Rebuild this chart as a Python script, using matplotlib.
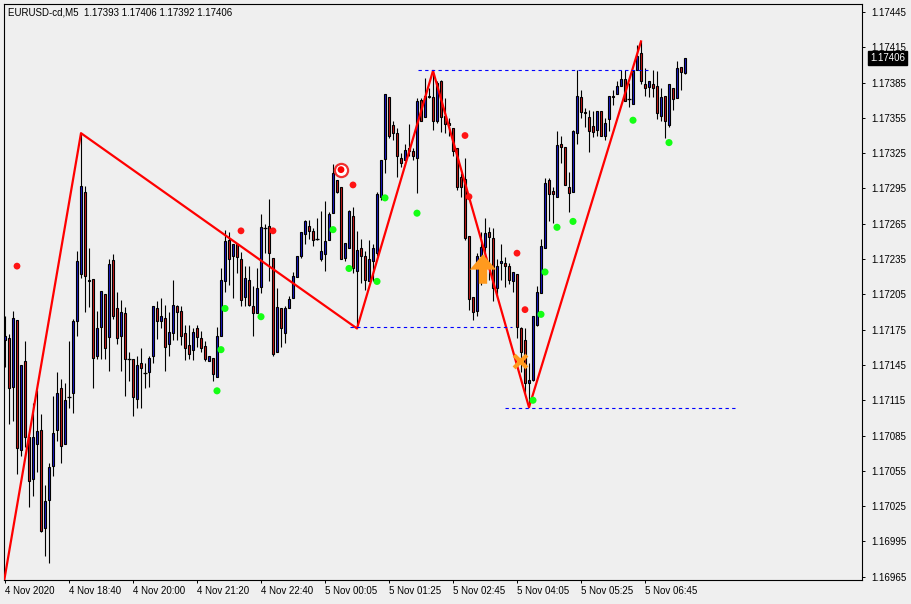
import matplotlib.pyplot as plt
from matplotlib.transforms import blended_transform_factory

# OHLC for the 171 M5 bars (EURUSD-cd)
opens = [1.17166, 1.17168, 1.17126, 1.17183, 1.17073, 1.17148, 1.17084, 1.17048, 1.17078, 1.17090,
         1.17006, 1.17030, 1.17059, 1.17090, 1.17125, 1.17078, 1.17118, 1.17121, 1.17182, 1.17222,
         1.17292, 1.17216, 1.17218, 1.17153, 1.17177, 1.17205, 1.17169, 1.17234, 1.17193, 1.17170,
         1.17189, 1.17150, 1.17150, 1.17116, 1.17147, 1.17138, 1.17139, 1.17153, 1.17193, 1.17182,
         1.17185, 1.17163, 1.17172, 1.17195, 1.17191, 1.17172, 1.17162, 1.17158, 1.17176, 1.17168,
         1.17161, 1.17148, 1.17151, 1.17135, 1.17170, 1.17216, 1.17251, 1.17238, 1.17248, 1.17235,
         1.17203, 1.17217, 1.17195, 1.17189, 1.17211, 1.17261, 1.17263, 1.17236, 1.17156, 1.17193,
         1.17172, 1.17193, 1.17202, 1.17220, 1.17238, 1.17256, 1.17263, 1.17259, 1.17252, 1.17235,
         1.17239, 1.17251, 1.17274, 1.17302, 1.17296, 1.17236, 1.17244, 1.17272, 1.17225, 1.17244,
         1.17238, 1.17216, 1.17233, 1.17240, 1.17288, 1.17320, 1.17373, 1.17349, 1.17342, 1.17321,
         1.17319, 1.17327, 1.17327, 1.17321, 1.17370, 1.17356, 1.17374, 1.17373, 1.17352, 1.17386,
         1.17357, 1.17351, 1.17346, 1.17329, 1.17305, 1.17303, 1.17255, 1.17203, 1.17191, 1.17238,
         1.17245, 1.17258, 1.17253, 1.17210, 1.17232, 1.17232, 1.17229, 1.17216, 1.17222, 1.17176,
         1.17166, 1.17130, 1.17132, 1.17179, 1.17206, 1.17244, 1.17302, 1.17293, 1.17288, 1.17333,
         1.17330, 1.17296, 1.17292, 1.17342, 1.17373, 1.17360, 1.17356, 1.17348, 1.17345, 1.17361,
         1.17340, 1.17354, 1.17374, 1.17375, 1.17382, 1.17388, 1.17371, 1.17367, 1.17396, 1.17410,
         1.17384, 1.17381, 1.17384, 1.17382, 1.17357, 1.17374, 1.17349, 1.17380, 1.17372, 1.17398,
         1.17393]
highs = [1.17187, 1.17171, 1.17191, 1.17183, 1.17145, 1.17165, 1.17084, 1.17113, 1.17124, 1.17103,
         1.17043, 1.17062, 1.17119, 1.17139, 1.17133, 1.17130, 1.17165, 1.17184, 1.17242, 1.17342,
         1.17297, 1.17244, 1.17218, 1.17191, 1.17208, 1.17205, 1.17235, 1.17239, 1.17207, 1.17200,
         1.17194, 1.17156, 1.17150, 1.17153, 1.17159, 1.17147, 1.17153, 1.17195, 1.17199, 1.17202,
         1.17196, 1.17190, 1.17217, 1.17196, 1.17195, 1.17179, 1.17179, 1.17176, 1.17179, 1.17174,
         1.17165, 1.17153, 1.17151, 1.17177, 1.17227, 1.17260, 1.17258, 1.17248, 1.17248, 1.17241,
         1.17229, 1.17229, 1.17212, 1.17227, 1.17273, 1.17265, 1.17286, 1.17236, 1.17210, 1.17193,
         1.17195, 1.17204, 1.17224, 1.17238, 1.17258, 1.17268, 1.17268, 1.17261, 1.17270, 1.17276,
         1.17284, 1.17275, 1.17316, 1.17302, 1.17296, 1.17249, 1.17277, 1.17279, 1.17259, 1.17252,
         1.17242, 1.17251, 1.17248, 1.17292, 1.17319, 1.17375, 1.17373, 1.17352, 1.17346, 1.17325,
         1.17333, 1.17350, 1.17329, 1.17372, 1.17372, 1.17389, 1.17380, 1.17395, 1.17386, 1.17387,
         1.17372, 1.17355, 1.17346, 1.17329, 1.17308, 1.17321, 1.17255, 1.17203, 1.17240, 1.17258,
         1.17270, 1.17262, 1.17261, 1.17235, 1.17248, 1.17237, 1.17232, 1.17224, 1.17222, 1.17177,
         1.17176, 1.17147, 1.17187, 1.17212, 1.17252, 1.17304, 1.17304, 1.17296, 1.17344, 1.17340,
         1.17330, 1.17309, 1.17345, 1.17396, 1.17379, 1.17363, 1.17362, 1.17361, 1.17361, 1.17361,
         1.17355, 1.17374, 1.17379, 1.17386, 1.17396, 1.17396, 1.17385, 1.17395, 1.17417, 1.17420,
         1.17397, 1.17386, 1.17396, 1.17395, 1.17380, 1.17374, 1.17384, 1.17380, 1.17403, 1.17398,
         1.17406]
lows = [1.17143, 1.17095, 1.17097, 1.17052, 1.17068, 1.17075, 1.17024, 1.17034, 1.17054, 1.17003,
        1.16983, 1.16977, 1.17051, 1.17080, 1.17062, 1.17078, 1.17108, 1.17104, 1.17170, 1.17219,
        1.17190, 1.17194, 1.17125, 1.17150, 1.17150, 1.17150, 1.17140, 1.17184, 1.17163, 1.17140,
        1.17119, 1.17131, 1.17102, 1.17108, 1.17108, 1.17125, 1.17126, 1.17147, 1.17167, 1.17176,
        1.17140, 1.17153, 1.17166, 1.17166, 1.17162, 1.17149, 1.17150, 1.17149, 1.17160, 1.17156,
        1.17148, 1.17148, 1.17131, 1.17135, 1.17170, 1.17207, 1.17213, 1.17202, 1.17223, 1.17195,
        1.17195, 1.17195, 1.17170, 1.17189, 1.17206, 1.17240, 1.17216, 1.17153, 1.17156, 1.17160,
        1.17164, 1.17193, 1.17202, 1.17220, 1.17236, 1.17248, 1.17252, 1.17246, 1.17251, 1.17233,
        1.17225, 1.17251, 1.17274, 1.17291, 1.17235, 1.17233, 1.17244, 1.17223, 1.17176, 1.17215,
        1.17209, 1.17216, 1.17216, 1.17238, 1.17285, 1.17308, 1.17338, 1.17336, 1.17305, 1.17313,
        1.17319, 1.17323, 1.17319, 1.17291, 1.17352, 1.17356, 1.17372, 1.17345, 1.17351, 1.17343,
        1.17342, 1.17340, 1.17323, 1.17294, 1.17288, 1.17251, 1.17192, 1.17183, 1.17187, 1.17213,
        1.17217, 1.17217, 1.17199, 1.17203, 1.17217, 1.17211, 1.17214, 1.17207, 1.17168, 1.17139,
        1.17121, 1.17109, 1.17131, 1.17178, 1.17206, 1.17244, 1.17267, 1.17266, 1.17288, 1.17317,
        1.17298, 1.17275, 1.17292, 1.17333, 1.17355, 1.17347, 1.17326, 1.17339, 1.17340, 1.17340,
        1.17336, 1.17344, 1.17366, 1.17375, 1.17382, 1.17369, 1.17364, 1.17367, 1.17396, 1.17384,
        1.17374, 1.17373, 1.17373, 1.17354, 1.17352, 1.17338, 1.17347, 1.17362, 1.17372, 1.17379,
        1.17392]
closes = [1.17170, 1.17125, 1.17185, 1.17074, 1.17145, 1.17084, 1.17046, 1.17084, 1.17089, 1.17004,
          1.17029, 1.17058, 1.17087, 1.17121, 1.17076, 1.17115, 1.17118, 1.17182, 1.17233, 1.17297,
          1.17221, 1.17217, 1.17151, 1.17176, 1.17208, 1.17159, 1.17231, 1.17187, 1.17168, 1.17190,
          1.17150, 1.17150, 1.17118, 1.17145, 1.17142, 1.17138, 1.17151, 1.17195, 1.17182, 1.17187,
          1.17160, 1.17173, 1.17196, 1.17190, 1.17170, 1.17159, 1.17154, 1.17173, 1.17169, 1.17159,
          1.17150, 1.17153, 1.17137, 1.17170, 1.17217, 1.17250, 1.17235, 1.17248, 1.17237, 1.17200,
          1.17219, 1.17196, 1.17189, 1.17210, 1.17262, 1.17261, 1.17240, 1.17154, 1.17194, 1.17176,
          1.17193, 1.17201, 1.17221, 1.17238, 1.17258, 1.17267, 1.17259, 1.17251, 1.17252, 1.17242,
          1.17250, 1.17273, 1.17308, 1.17292, 1.17235, 1.17249, 1.17276, 1.17227, 1.17243, 1.17238,
          1.17217, 1.17235, 1.17244, 1.17290, 1.17319, 1.17375, 1.17340, 1.17342, 1.17323, 1.17317,
          1.17328, 1.17329, 1.17323, 1.17369, 1.17352, 1.17374, 1.17373, 1.17352, 1.17385, 1.17356,
          1.17350, 1.17349, 1.17327, 1.17296, 1.17296, 1.17253, 1.17201, 1.17190, 1.17238, 1.17245,
          1.17257, 1.17254, 1.17210, 1.17229, 1.17233, 1.17229, 1.17217, 1.17224, 1.17177, 1.17156,
          1.17130, 1.17132, 1.17187, 1.17207, 1.17246, 1.17300, 1.17290, 1.17290, 1.17332, 1.17330,
          1.17298, 1.17291, 1.17344, 1.17374, 1.17360, 1.17359, 1.17344, 1.17343, 1.17361, 1.17340,
          1.17351, 1.17374, 1.17373, 1.17382, 1.17388, 1.17369, 1.17371, 1.17395, 1.17408, 1.17386,
          1.17380, 1.17386, 1.17380, 1.17359, 1.17373, 1.17352, 1.17384, 1.17371, 1.17397, 1.17394,
          1.17406]

# ZigZag swing points (bar index, price)
zz_bars = [-1, 19, 88, 107, 131, 159]
zz_prices = [1.16946, 1.17342, 1.17176, 1.17395, 1.17109, 1.17420]

# dashed blue levels: price, first bar, last bar
level_prices = [1.17177, 1.17396, 1.17108]
level_start = [86.25, 103.25, 125]
level_end = [126.75, 160.75, 183]

# signal dots
red_bars = [3, 59, 67, 87, 115, 116, 128, 130]
red_prices = [1.17229, 1.17259, 1.17259, 1.17298, 1.17340, 1.17288, 1.17240, 1.17192]
green_bars = [53, 54, 55, 64, 82, 86, 93, 95, 103, 132, 134, 135, 138, 142, 157, 166]
green_prices = [1.17123, 1.17158, 1.17193, 1.17186, 1.17260, 1.17227, 1.17216, 1.17287,
                1.17274, 1.17115, 1.17188, 1.17224, 1.17262, 1.17267, 1.17353, 1.17334]

# other objects
target_bar, target_price = 84, 1.17311
arrow_bar, arrow_low, arrow_high = 119.5, 1.17214, 1.17239
cross_bar, cross_price = 128.75, 1.17148

price_ticks = [1.16965 + 0.0003 * k for k in range(17)]
time_bars = [0, 16, 32, 48, 64, 80, 96, 112, 128, 144, 160]
time_labels = ['4 Nov 2020', '4 Nov 18:40', '4 Nov 20:00', '4 Nov 21:20', '4 Nov 22:40',
               '5 Nov 00:05', '5 Nov 01:25', '5 Nov 02:45', '5 Nov 04:05', '5 Nov 05:25',
               '5 Nov 06:45']

BG = '#EFEFEF'
plt.rcParams['font.family'] = ['Liberation Sans', 'DejaVu Sans']

fig = plt.figure(figsize=(9.12, 6.04), dpi=100, facecolor=BG)
ax = fig.add_axes([4 / 912, 24 / 604, 858 / 912, 576 / 604])
ax.set_facecolor(BG)

idx = list(range(len(opens)))

# wicks
ax.vlines(idx, lows, highs, color='black', linewidth=0.8, zorder=2)

# bodies (blue = up bar, red = down bar, black outline)
body_bottom = [min(o, c) for o, c in zip(opens, closes)]
body_height = [abs(c - o) for o, c in zip(opens, closes)]
body_color = ['#1a1ac8' if c > o else '#c81a1a' for o, c in zip(opens, closes)]
ax.bar(idx, body_height, bottom=body_bottom, width=0.7, color=body_color,
       edgecolor='black', linewidth=0.8, zorder=3)
doji = [i for i in idx if opens[i] == closes[i]]
ax.hlines([opens[i] for i in doji], [i - 0.4 for i in doji], [i + 0.4 for i in doji],
          color='black', linewidth=0.9, zorder=3)

# zigzag
ax.plot(zz_bars, zz_prices, color='#FF0000', linewidth=1.6, zorder=4)

# dashed levels
ax.hlines(level_prices, level_start, level_end, color='#0000FF', linewidth=0.8,
          linestyles=(0, (3, 3)), zorder=4)

# dots
ax.scatter(red_bars, red_prices, s=24, color='#FF1414', edgecolors='none', zorder=5)
ax.scatter(green_bars, green_prices, s=26, color='#14FF14', edgecolors='none', zorder=5)

# target marker
ax.scatter([target_bar], [target_price], s=90, facecolor='white', edgecolors='#F03030',
           linewidths=1.6, zorder=6)
ax.scatter([target_bar], [target_price], s=24, color='#FF0000', edgecolors='none', zorder=7)

# orange arrow and cross
ax.annotate('', xy=(arrow_bar, arrow_high), xytext=(arrow_bar, arrow_low),
            arrowprops=dict(arrowstyle='simple,head_width=1.9,head_length=1.1,tail_width=0.6',
                            fc='#FF9A1E', ec='none', shrinkA=0, shrinkB=0), zorder=6)
ax.scatter([cross_bar], [cross_price], marker='x', s=85, color='#FF9A1E', linewidths=3, zorder=6)

ax.set_xlim(-0.25, 214.25)
ax.set_ylim(1.169622, 1.174518)

# axes decoration
for sp in ax.spines.values():
    sp.set_color('black')
    sp.set_linewidth(0.8)

ax.yaxis.tick_right()
ax.set_yticks(price_ticks)
ax.set_yticklabels([f'{p:.5f}' for p in price_ticks])
ax.tick_params(axis='y', direction='out', length=2.5, width=0.7, pad=4, labelsize=7)

ax.set_xticks(time_bars)
ax.set_xticklabels(time_labels)
ax.tick_params(axis='x', direction='out', length=2.5, width=0.7, pad=2, labelsize=7)
for lab in ax.get_xticklabels():
    lab.set_horizontalalignment('left')

# header and last price box
ax.text(0.005, 0.986, 'EURUSD-cd,M5  1.17393 1.17406 1.17392 1.17406', transform=ax.transAxes,
        fontsize=7, ha='left', va='center')
trans = blended_transform_factory(ax.transAxes, ax.transData)
ax.text(1.0095, closes[-1], f'{closes[-1]:.5f}', transform=trans, fontsize=7, color='white',
        ha='left', va='center', clip_on=False,
        bbox=dict(boxstyle='square,pad=0.2', fc='black', ec='black'))

fig.savefig('out.png', dpi=100, facecolor=BG)
